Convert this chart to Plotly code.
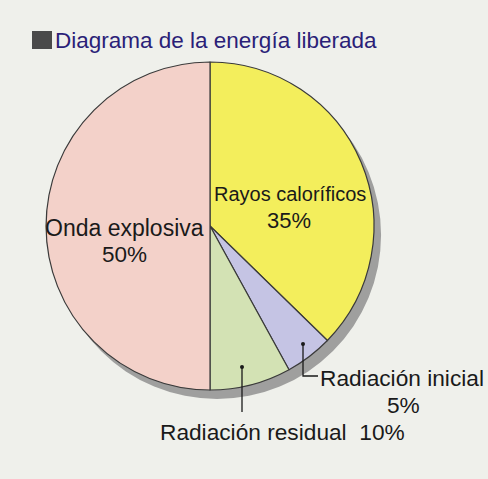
import plotly.graph_objects as go

# ---- data ----
categories = ["Rayos caloríficos", "Radiación inicial", "Radiación residual", "Onda explosiva"]
# slice sizes as drawn in the picture (degrees of arc converted to percent)
drawn_shares = [37.3, 4.7, 8.0, 50.0]
# percentages printed on the labels
label_pcts = ["35%", "5%", "10%", "50%"]
slice_colors = ["#f3ee5c", "#c5c4e4", "#d3e2b4", "#f3d1c9"]
title_text = "Diagrama de la energía liberada"

W, H = 488, 479


def px(x):
    return x / W


def py(y):
    return 1 - y / H


BG = "#eff0eb"
LINE = "#3a3a3a"
FONT = "Liberation Sans, Arial, Helvetica, sans-serif"

# pie geometry (pixels)
L, R, T, B = 46, 374, 62, 390
SH_DX, SH_DY = 7, 9

fig = go.Figure()

# drop shadow
fig.add_trace(go.Pie(
    values=[1], labels=["sombra"], marker=dict(colors=["#909090"], line=dict(width=0)),
    textinfo="none", hoverinfo="skip", sort=False, showlegend=False,
    domain=dict(x=[px(L + SH_DX), px(R + SH_DX)], y=[py(B + SH_DY), py(T + SH_DY)]),
    opacity=0.85,
))

fig.add_trace(go.Pie(
    labels=categories, values=drawn_shares, sort=False, direction="clockwise", rotation=0,
    marker=dict(colors=slice_colors, line=dict(color=LINE, width=1.2)),
    textinfo="none", hoverinfo="label", showlegend=False,
    domain=dict(x=[px(L), px(R)], y=[py(B), py(T)]),
))

annotations = []


def ann(text, x, y, size=22.7, color="#1a1a1a", xanchor="center"):
    annotations.append(dict(
        text=text, x=px(x), y=py(y), xref="paper", yref="paper", showarrow=False,
        xanchor=xanchor, yanchor="middle", font=dict(family=FONT, size=size, color=color),
    ))


ann(title_text, 53, 41, size=22.5, color="#2b1f78", xanchor="left")
ann(categories[0], 290, 194, size=20)
ann(label_pcts[0], 289, 220, size=22)
ann(categories[3], 125, 228, size=23)
ann(label_pcts[3], 125, 254, size=22.5)
ann(categories[1], 402, 378)
ann(label_pcts[1], 403, 405)
ann(categories[2] + "\u00a0\u00a0" + label_pcts[2], 282, 432)

shapes = [
    # title square
    dict(type="rect", xref="paper", yref="paper", x0=px(32), x1=px(52), y0=py(49), y1=py(31),
         fillcolor="#4a4a4a", line=dict(width=0)),
    # leader: radiación inicial
    dict(type="path", xref="paper", yref="paper",
         path=f"M {px(303)} {py(344)} L {px(303)} {py(376)} L {px(318)} {py(376)}",
         line=dict(color="#1a1a1a", width=1.3)),
    dict(type="circle", xref="paper", yref="paper", x0=px(301), x1=px(305), y0=py(346), y1=py(342),
         fillcolor="#1a1a1a", line=dict(width=0)),
    # leader: radiación residual
    dict(type="line", xref="paper", yref="paper", x0=px(242), x1=px(242), y0=py(367), y1=py(412),
         line=dict(color="#1a1a1a", width=1.3)),
    dict(type="circle", xref="paper", yref="paper", x0=px(240), x1=px(244), y0=py(369), y1=py(365),
         fillcolor="#1a1a1a", line=dict(width=0)),
]

fig.update_layout(
    width=W, height=H, margin=dict(l=0, r=0, t=0, b=0),
    paper_bgcolor=BG, plot_bgcolor=BG,
    annotations=annotations, shapes=shapes, showlegend=False,
)

fig.write_html(
    "out.html",
    config={"displayModeBar": False},
    post_script="document.body.style.margin='0';document.body.style.background='" + BG + "';",
)
